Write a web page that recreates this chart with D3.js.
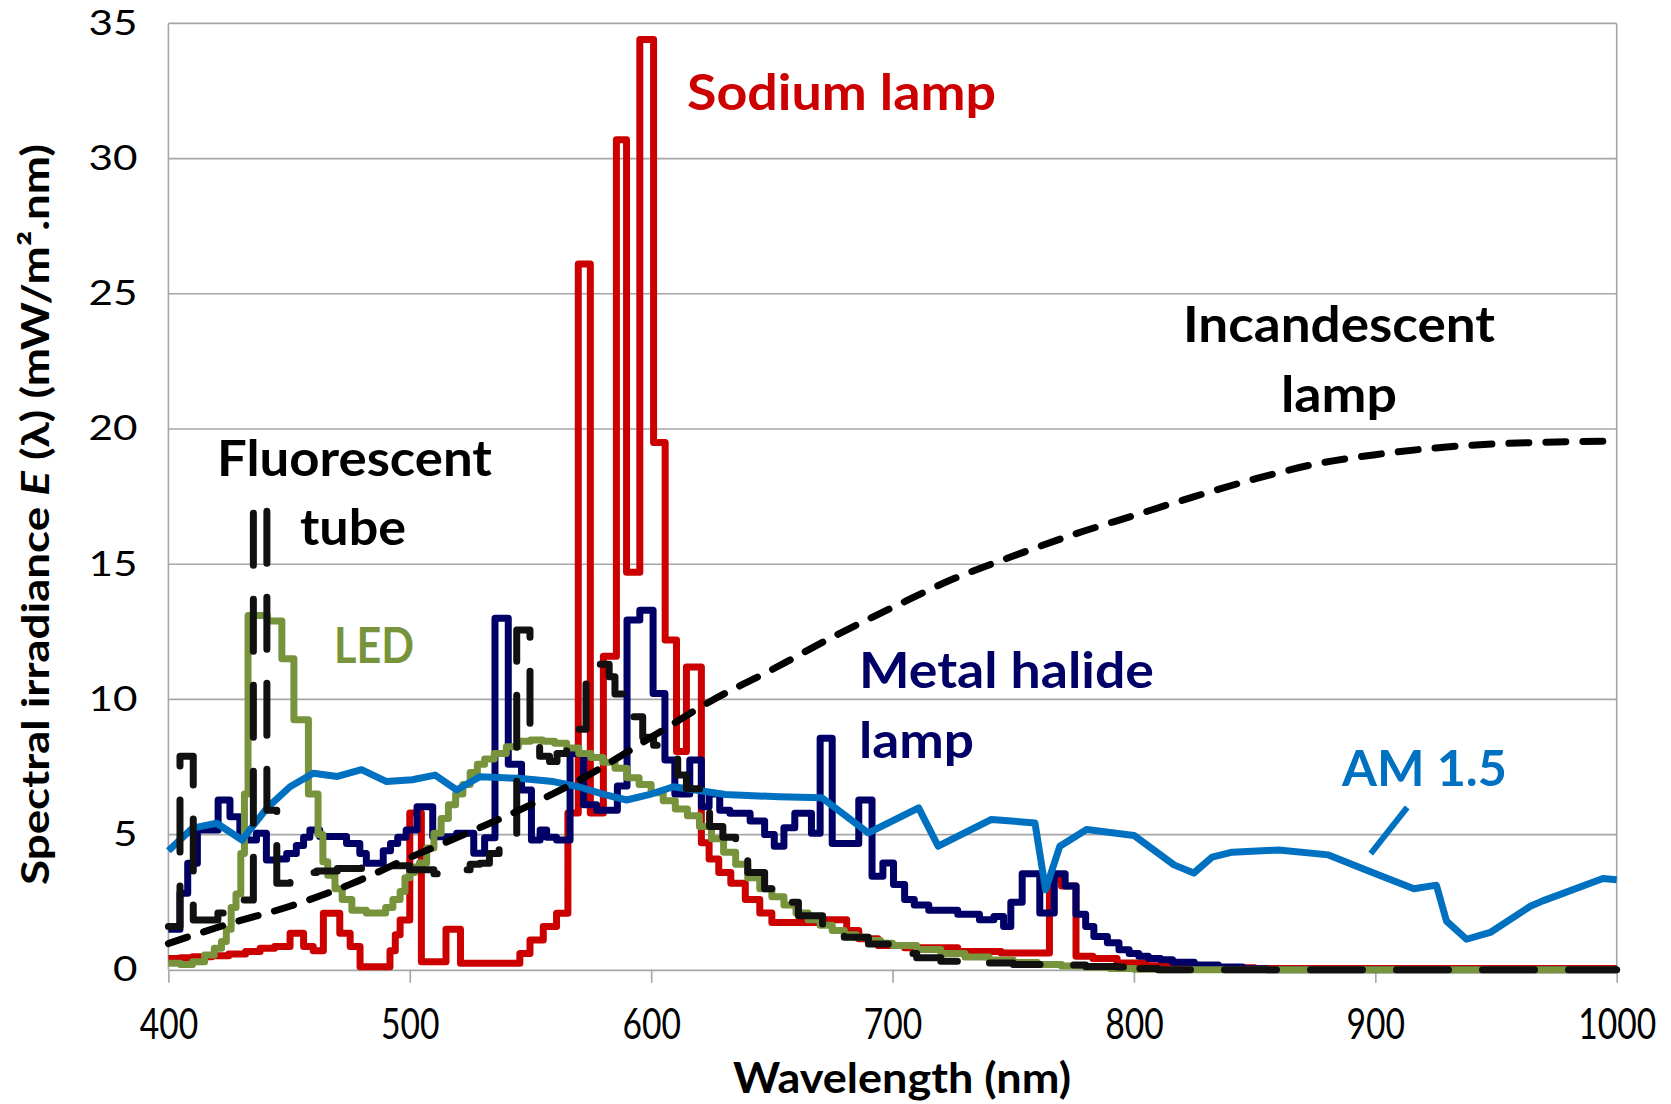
<!DOCTYPE html>
<html><head><meta charset="utf-8">
<script src="https://cdn.jsdelivr.net/npm/d3@7/dist/d3.min.js"></script>
<style>
html,body{margin:0;padding:0;background:#fff;}
svg{display:block;}
text{font-family:Lato,"Open Sans",sans-serif;}
</style></head><body>
<svg id="chart" width="1671" height="1104"></svg>
<script>
// ---- data: [wavelength nm, irradiance] ----
const xTicks = [400, 500, 600, 700, 800, 900, 1000];
const yTicks = [0, 5, 10, 15, 20, 25, 30, 35];

const sodium = [[400,0.42],[405,0.45],[410,0.48],[418,0.52],[425,0.58],[432,0.68],[438,0.8],[444,0.86],[450.4,1.35],[456,0.86],[460,0.7],[464.2,2.09],[471,1.35],[475.3,0.86],[479.4,0.11],[491.8,0.7],[494,1.3],[496,1.84],[500,5.8],[504.8,0.3],[515,1.5],[521,0.24],[545.6,0.6],[549.8,1.1],[555.3,1.6],[560.8,2.09],[565.5,5.8],[569.8,26.1],[574.8,5.8],[580.2,11.6],[585.6,30.7],[589.8,14.7],[595.3,34.4],[601,19.5],[605.8,12.2],[610.5,8.07],[614.6,11.2],[620.8,4.7],[624,4.1],[628,3.6],[633,3.2],[639,2.6],[645,2.1],[650,1.75],[672,1.85],[681,1.45],[686,1.15],[694,0.9],[705,0.82],[727,0.68],[745,0.62],[765,3.35],[770,3.1],[776,0.5],[783,0.42],[793,0.25],[805,0.15],[820,0.08],[850,0.05],[1000,0.05]];

const metalHalide = [[400,1.5],[404.8,2.83],[408,3.94],[412,5.17],[420.6,6.28],[425.5,5.66],[429.6,4.92],[432.4,4.8],[436.5,5.05],[440.6,4.06],[444.8,4.1],[449,4.3],[453,4.6],[456,4.9],[458.6,5.17],[462.7,4.93],[473.8,4.67],[479.3,4.3],[482,3.94],[489,4.4],[492,4.67],[495,4.9],[498.5,5.17],[503,6.03],[509.5,4.92],[519.4,5.05],[526.5,4.31],[531,4.88],[535.3,13.0],[540.8,7.6],[546.3,6.65],[550.4,4.8],[554,5.17],[556.7,4.9],[560.8,4.8],[566.4,8.0],[572,6.1],[577.4,5.9],[586,6.8],[590,12.94],[595.3,13.3],[600.8,10.22],[605.7,7.76],[609.8,6.5],[616,7.76],[620.8,6.03],[624,6.5],[628.4,5.9],[632.6,5.79],[641,5.5],[647,5.0],[651,4.57],[655,5.25],[659.5,5.79],[666.4,5.05],[670,8.56],[675,4.67],[686,6.28],[691.5,3.46],[696,3.95],[700.4,3.15],[705,2.6],[709,2.4],[715,2.2],[727,2.05],[736,1.85],[742,1.97],[746,1.6],[749,2.5],[753.7,3.55],[761,2.1],[767,3.55],[771.5,3.1],[776,2.05],[780,1.6],[783.4,1.23],[789,1.0],[793.8,0.74],[798,0.6],[802,0.5],[806,0.42],[811,0.37],[816,0.28],[825,0.18],[835,0.1],[845,0.04],[855,0],[1000,0]];

const led = [[400,0.24],[405,0.2],[410,0.3],[415,0.55],[419,0.8],[422,1.05],[424,1.5],[426,2.3],[428,2.8],[430,4.3],[431.5,6.5],[433,13.1],[441,12.9],[447,11.5],[452,9.25],[458,6.5],[462,5.0],[464,4.0],[466,3.5],[469,3.0],[472,2.6],[476,2.2],[482,2.1],[490,2.3],[493,2.6],[496,2.9],[498,3.4],[500,3.6],[502,3.8],[504,3.95],[507,4.5],[510,5.05],[513,5.6],[516,6.1],[519,6.5],[522,6.85],[525,7.3],[528,7.6],[531,7.8],[535,8.0],[540,8.25],[545,8.45],[550,8.5],[555,8.45],[560,8.38],[565,8.2],[570,8.0],[575,7.85],[580,7.68],[585,7.45],[590,7.1],[595,6.85],[600,6.55],[605,6.25],[610,5.95],[615,5.7],[620,5.3],[625,4.85],[630,4.35],[635,3.9],[640,3.4],[645,3.0],[650,2.7],[655,2.4],[660,2.1],[665,1.85],[670,1.65],[675,1.45],[680,1.3],[685,1.2],[690,1.08],[695,0.98],[700,0.9],[710,0.75],[720,0.6],[730,0.47],[740,0.36],[750,0.27],[760,0.2],[770,0.14],[780,0.09],[790,0.05],[800,0.02],[810,0],[1000,0]];

const fluorescent = [[400,1.6],[404.8,7.9],[410.3,1.84],[420.5,2.1],[425,2.3],[431,2.58],[435.2,17.3],[440.8,5.9],[444.9,3.2],[450.4,3.4],[456,3.6],[461.4,3.65],[470,3.75],[480,3.85],[490,3.85],[500,3.7],[510,3.55],[519.4,3.7],[525,3.9],[529,3.94],[533,4.3],[537,4.6],[540,4.85],[544.3,12.57],[549.8,8.25],[553.8,7.9],[557.9,7.7],[561,8.0],[565,8.4],[569,8.9],[573,10.84],[576,11.3],[582.6,10.84],[585,10.2],[589.5,9.36],[596.5,8.6],[601,8.3],[605,7.8],[611,7.2],[614.6,6.7],[620,6.0],[624.2,5.3],[629.7,4.9],[635,4.3],[640,3.6],[647,3.0],[653,2.5],[661,2.0],[671,1.5],[680,1.2],[690,0.95],[700,0.6],[710,0.45],[720,0.32],[735,0.25],[750,0.2],[765,0.18],[780,0.12],[793,0.1],[796,0.4],[800,0.05],[810,0],[1000,0]];

const incandescent = [[400,0.97],[425,1.7],[450,2.34],[475,3.15],[500,4.15],[525,5.1],[550,6.1],[575,7.25],[600,8.6],[625,9.95],[650,11.1],[675,12.3],[700,13.4],[725,14.45],[750,15.3],[775,16.1],[800,16.8],[825,17.5],[850,18.15],[875,18.7],[900,19.05],[925,19.3],[950,19.45],[975,19.52],[1000,19.55]];

const am15 = [[400,4.4],[410,5.24],[420,5.42],[430.5,4.8],[441,6.0],[450.4,6.77],[460,7.27],[470,7.15],[480,7.4],[490.4,6.96],[501,7.03],[510.5,7.2],[519.4,6.65],[529,7.14],[545,7.08],[559.4,6.96],[570,6.77],[580,6.5],[589.8,6.28],[600,6.5],[609.2,6.77],[630.7,6.48],[653,6.4],[670.7,6.36],[690,5.06],[710.8,5.99],[718.9,4.57],[741,5.56],[759,5.43],[763.4,2.96],[769.3,4.57],[780.4,5.19],[800,4.97],[816.6,3.88],[824.8,3.58],[832.4,4.17],[840.7,4.35],[860,4.43],[880.6,4.25],[898,3.63],[916,3.0],[925.3,3.13],[929.5,1.8],[937.8,1.13],[947.6,1.38],[964.2,2.35],[969.4,2.55],[994.3,3.38],[1000,3.33]];

const am15Leader = [[913.2,6.01],[898.1,4.30]];

// ---- drawing ----
const svg = d3.select("#chart");
const x = d3.scaleLinear().domain([400, 1000]).range([168.4, 1616.7]);
const y = d3.scaleLinear().domain([0, 35]).range([969.8, 23.4]);
const gridCol = "#a6a6a6";
const LW = 7;

// gridlines
svg.append("g").selectAll("line").data(yTicks.filter(d => d > 0)).join("line")
  .attr("x1", x(400)).attr("x2", x(1000))
  .attr("y1", d => y(d)).attr("y2", d => y(d))
  .attr("stroke", gridCol).attr("stroke-width", 1.6);
// frame
svg.append("line").attr("x1", x(400)).attr("x2", x(400)).attr("y1", y(0)).attr("y2", y(35))
  .attr("stroke", gridCol).attr("stroke-width", 1.6);
svg.append("line").attr("x1", x(1000)).attr("x2", x(1000)).attr("y1", y(0)).attr("y2", y(35))
  .attr("stroke", gridCol).attr("stroke-width", 1.6);

// x axis
const xAxis = svg.append("g").attr("transform", `translate(0,${y(0)})`)
  .call(d3.axisBottom(x).tickValues(xTicks).tickSize(13).tickSizeOuter(0).tickPadding(26).tickFormat(d3.format("d")));
xAxis.select(".domain").attr("stroke", gridCol).attr("stroke-width", 1.8);
xAxis.selectAll(".tick line").attr("stroke", gridCol).attr("stroke-width", 1.6);
xAxis.selectAll(".tick text").attr("font-size", 42).attr("fill", "#000")
  .attr("font-family", "Lato").attr("dy", "0.72em")
  .attr("textLength", d => String(d).length * 19.5).attr("lengthAdjust", "spacingAndGlyphs");

// y axis labels
const yAxis = svg.append("g").attr("transform", `translate(${x(400)},0)`)
  .call(d3.axisLeft(y).tickValues(yTicks).tickSize(0).tickPadding(31).tickFormat(d3.format("d")));
yAxis.select(".domain").remove();
yAxis.selectAll(".tick text").attr("font-size", 34).attr("fill", "#000")
  .attr("font-family", "Lato")
  .attr("textLength", d => String(d).length * 24.5).attr("lengthAdjust", "spacingAndGlyphs");

// series
const stepLine = d3.line().x(d => x(d[0])).y(d => y(d[1])).curve(d3.curveStepAfter);
const straight = d3.line().x(d => x(d[0])).y(d => y(d[1]));
const smooth = d3.line().x(d => x(d[0])).y(d => y(d[1])).curve(d3.curveMonotoneX);

const plot = svg.append("g").attr("fill", "none").attr("stroke-linejoin", "round");
plot.append("path").datum(sodium).attr("d", stepLine).attr("stroke", "#cc0000").attr("stroke-width", LW);
plot.append("path").datum(metalHalide).attr("d", stepLine).attr("stroke", "#000066").attr("stroke-width", LW);
plot.append("path").datum(led).attr("d", stepLine).attr("stroke", "#77933c").attr("stroke-width", LW);
plot.append("path").datum(am15).attr("d", straight).attr("stroke", "#0070c0").attr("stroke-width", LW);
plot.append("path").datum(fluorescent).attr("d", stepLine).attr("stroke", "#111111").attr("stroke-width", LW)
  .attr("stroke-dasharray", "52,34").attr("stroke-linecap", "round");
plot.append("path").datum(incandescent).attr("d", smooth).attr("stroke", "#000000").attr("stroke-width", 7)
  .attr("stroke-dasharray", "20,17").attr("stroke-linecap", "round");
plot.append("path").datum(am15Leader).attr("d", straight).attr("stroke", "#0070c0").attr("stroke-width", 6);

// annotations
function label(lines, color, anchor) {
  const g = svg.append("g");
  lines.forEach(l => {
    g.append("text").attr("x", l.x).attr("y", l.y).attr("fill", color)
      .attr("font-weight", "bold").attr("font-size", 50).attr("text-anchor", anchor)
      .attr("textLength", l.w).attr("lengthAdjust", "spacingAndGlyphs").text(l.t);
  });
}
label([{t: "Sodium lamp", x: 687, y: 110, w: 309}], "#cc0000", "start");
label([{t: "Fluorescent", x: 217, y: 476, w: 275}, {t: "tube", x: 300, y: 545, w: 106}], "#000", "start");
label([{t: "LED", x: 334, y: 663, w: 80}], "#77933c", "start");
label([{t: "Metal halide", x: 859, y: 688, w: 295}, {t: "lamp", x: 859, y: 758, w: 115}], "#000066", "start");
label([{t: "Incandescent", x: 1183, y: 342, w: 312}, {t: "lamp", x: 1281, y: 412, w: 116}], "#000", "start");
label([{t: "AM 1.5", x: 1342, y: 786, w: 165}], "#0070c0", "start");

// axis titles
svg.append("text").attr("x", 902).attr("y", 1093).attr("text-anchor", "middle")
  .attr("font-weight", "bold").attr("font-size", 42).attr("fill", "#000")
  .attr("textLength", 338).attr("lengthAdjust", "spacingAndGlyphs").text("Wavelength (nm)");

const yt = svg.append("text").attr("transform", "translate(49,514.5) rotate(-90)")
  .attr("text-anchor", "middle").attr("font-weight", "bold").attr("font-size", 38).attr("fill", "#000")
  .attr("textLength", 741).attr("lengthAdjust", "spacingAndGlyphs");
yt.append("tspan").text("Spectral irradiance ");
yt.append("tspan").attr("font-style", "italic").text("E");
yt.append("tspan").text(" (λ) (mW/m².nm)");
</script>
</body></html>
